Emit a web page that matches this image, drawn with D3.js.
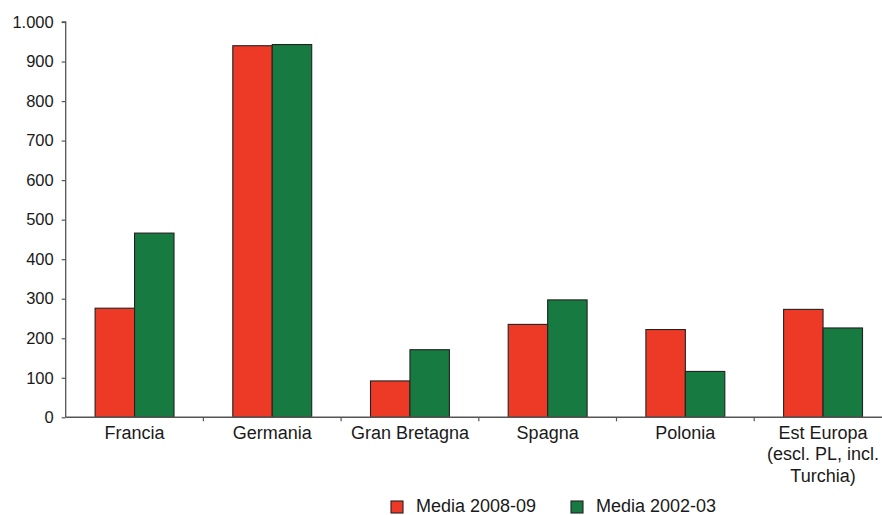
<!DOCTYPE html>
<html><head><meta charset="utf-8">
<script src="https://cdn.jsdelivr.net/npm/d3@7"></script>
<style>body{margin:0;background:#fff;} text{font-family:"Liberation Sans",Arial,sans-serif;fill:#1a1a1a;}</style>
</head><body>
<svg id="c" width="882" height="515"></svg>
<script>
const categories = ["Francia","Germania","Gran Bretagna","Spagna","Polonia","Est Europa\n(escl. PL, incl.\nTurchia)"];
const seriesNames = ["Media 2008-09","Media 2002-03"];
const media200809 = [276, 940, 92, 235, 222, 273];
const media200203 = [466, 943, 171, 297, 116, 226];
const yTicks = [0,100,200,300,400,500,600,700,800,900,1000];
const colors = ["#ED3A26","#177A40"];

const svg = d3.select("#c");
const x0 = 65.7, y0 = 417.3, yTop = 22;
const x = d3.scaleBand().domain(categories).range([x0, x0 + 6*137.7]).padding(0);
const xs = d3.scaleBand().domain(seriesNames).range([0, x.bandwidth()]).paddingInner(0).paddingOuter(0.745);
const y = d3.scaleLinear().domain([0,1000]).range([y0, yTop]);
const fmt = d => d3.format(",")(d).replace(/,/g, ".");

// bars
const data = categories.map((c,i)=>({c, v:[media200809[i], media200203[i]]}));
const g = svg.append("g");
data.forEach(d => {
  d.v.forEach((v,j) => {
    g.append("rect")
      .attr("x", x(d.c) + xs(seriesNames[j]))
      .attr("y", y(v))
      .attr("width", xs.bandwidth())
      .attr("height", y0 - y(v))
      .attr("fill", colors[j])
      .attr("stroke", "#222").attr("stroke-width", 1.1);
  });
});

// y axis
const ya = svg.append("g").attr("transform", `translate(${x0},0)`)
  .call(d3.axisLeft(y).tickValues(yTicks).tickFormat(fmt).tickSize(4).tickPadding(8));
ya.select(".domain").attr("stroke","#555").attr("stroke-width",1.3).attr("d", `M-4,${yTop}H0V${y0}`);
ya.selectAll(".tick line").attr("stroke","#555").attr("stroke-width",1.2);
ya.selectAll(".tick text").style("font-size","16.5px").attr("fill","#1a1a1a").attr("font-family","Liberation Sans, Arial, sans-serif");

// x axis
const xa = svg.append("g").attr("transform", `translate(0,${y0})`);
xa.append("line").attr("x1", x0).attr("x2", 882).attr("y1",0).attr("y2",0).attr("stroke","#555").attr("stroke-width",1.5);
categories.forEach((c,i) => {
  if (i>0) xa.append("line").attr("x1", x(c)).attr("x2", x(c)).attr("y1",0).attr("y2",4).attr("stroke","#555").attr("stroke-width",1.2);
  const lines = c.split("\n");
  const t = xa.append("text").attr("text-anchor","middle").style("font-size","18px");
  lines.forEach((l,k) => t.append("tspan").attr("x", x(c) + x.bandwidth()/2).attr("y", 21.5 + k*21.7).text(l));
});

// legend
const leg = svg.append("g");
const legX = [391, 571];
seriesNames.forEach((s,j) => {
  leg.append("rect").attr("x", legX[j]).attr("y", 501).attr("width", 12).attr("height", 12)
    .attr("fill", colors[j]).attr("stroke","#222").attr("stroke-width",1.1);
  leg.append("text").attr("x", legX[j] + 25).attr("y", 512).style("font-size","18px").text(s);
});
</script>
</body></html>
